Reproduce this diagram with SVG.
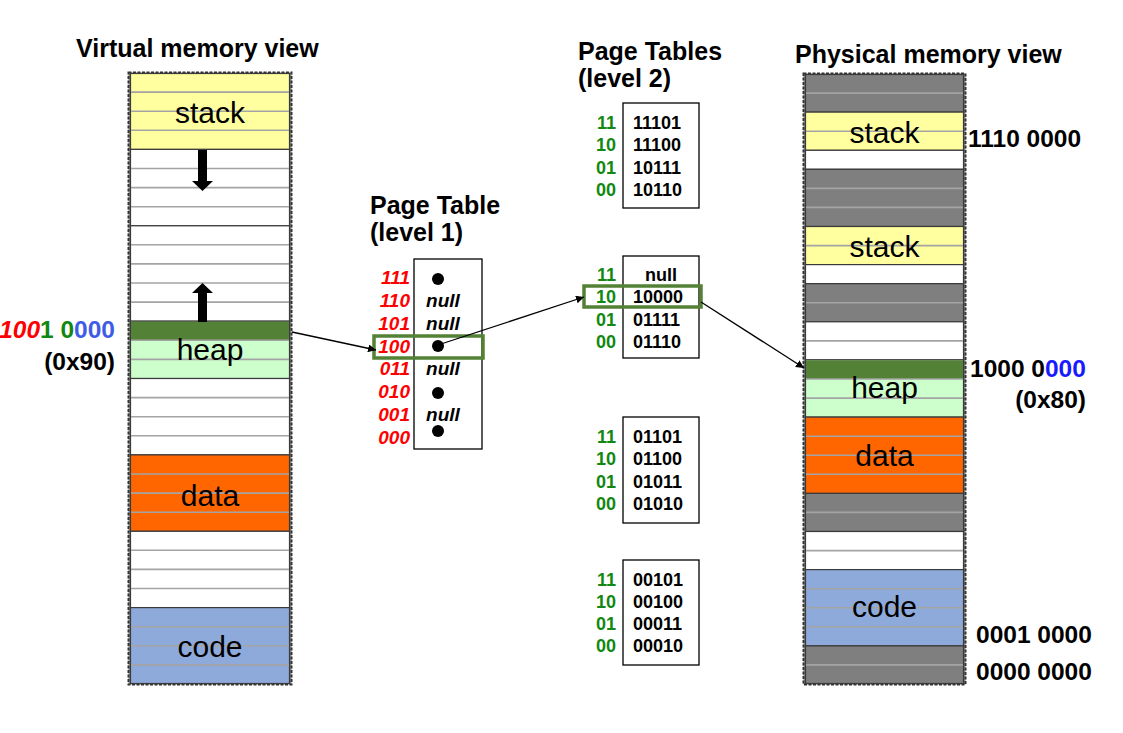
<svg xmlns="http://www.w3.org/2000/svg" width="1123" height="733" viewBox="0 0 1123 733">
<style>
  text { font-family: "Liberation Sans", Arial, sans-serif; }
  .title { font-size: 25px; font-weight: bold; fill: #000; }
  .seg { font-size: 30px; fill: #000; text-anchor: middle; }
  .addr { font-size: 24.5px; font-weight: bold; fill: #000; }
  .outer { fill: #8c8c8c; stroke: #333; stroke-width: 2; stroke-dasharray: 3 1.5; }
  .blk { stroke: #3a3a3a; stroke-width: 1.2; }
  .slot { stroke: #a4a4a4; stroke-width: 1.6; fill: none; }
  .white { fill: #ffffff; }
  .stack { fill: #ffffa0; }
  .heap { fill: #ccffcc; }
  .hot { fill: #538135; }
  .data { fill: #ff6600; }
  .code { fill: #8eaadb; }
  .gray { fill: #7f7f7f; }
  .tbl { fill: #fff; stroke: #000; stroke-width: 1.3; }
  .l1k { font-size: 19px; font-weight: bold; font-style: italic; fill: #ff0000; text-anchor: end; }
  .l1v { font-size: 19px; font-weight: bold; font-style: italic; fill: #000; text-anchor: middle; }
  .l2k { font-size: 18px; font-weight: bold; fill: #118811; text-anchor: end; }
  .l2v { font-size: 18px; font-weight: bold; fill: #000; }
  .sel { fill: none; stroke: #538135; stroke-width: 3.5; }
  .conn { stroke: #000; stroke-width: 1.3; fill: none; marker-end: url(#arr); }
</style>
<defs>
  <marker id="arr" viewBox="0 0 10 10" refX="10" refY="5" markerWidth="8" markerHeight="8" markerUnits="userSpaceOnUse" orient="auto">
    <path d="M0,0 L10,5 L0,10 Z" fill="#000"/>
  </marker>
</defs>
<rect width="1123" height="733" fill="#fff"/>

<!-- Virtual memory view -->
<g id="virtual-memory">
  <text class="title" x="76" y="57">Virtual memory view</text>
  <rect class="outer" x="128.5" y="72.5" width="163" height="612"/>
  <rect class="blk stack" x="130.5" y="73.5" width="159" height="75.9"/>
  <rect class="blk white" x="130.5" y="149.4" width="159" height="76.4"/>
  <rect class="blk white" x="130.5" y="225.8" width="159" height="95.4"/>
  <rect class="blk heap" x="130.5" y="321.2" width="159" height="57.3"/>
  <rect class="hot" x="131" y="321.7" width="158" height="18.6"/>
  <rect class="blk white" x="130.5" y="378.5" width="159" height="76.4"/>
  <rect class="blk data" x="130.5" y="454.9" width="159" height="76.4"/>
  <rect class="blk white" x="130.5" y="531.3" width="159" height="76.3"/>
  <rect class="blk code" x="130.5" y="607.6" width="159" height="75.9"/>
  <path class="slot" d="M131,92.1H289 M131,111.2H289 M131,130.3H289 M131,168.5H289 M131,187.6H289 M131,206.7H289 M131,244.8H289 M131,263.9H289 M131,283H289 M131,302.1H289 M131,340.3H289 M131,359.4H289 M131,397.6H289 M131,416.7H289 M131,435.8H289 M131,474H289 M131,493.1H289 M131,512.2H289 M131,550.3H289 M131,569.4H289 M131,588.5H289 M131,626.7H289 M131,645.8H289 M131,664.9H289"/>
  <text class="seg" x="210" y="123">stack</text>
  <text class="seg" x="210" y="360">heap</text>
  <text class="seg" x="210" y="506">data</text>
  <text class="seg" x="210" y="657">code</text>
  <path d="M198,150 H207 V181 H213 L202.5,191 L192,181 H198 Z" fill="#000"/>
  <path d="M198,322 V293 H192 L202.5,283 L213,293 H207 V322 Z" fill="#000"/>
</g>

<g id="virtual-address">
  <text class="addr" x="115" y="338" text-anchor="end"><tspan fill="#ff0000" font-style="italic">100</tspan><tspan fill="#118811">1 0</tspan><tspan fill="#3f5ce6">000</tspan></text>
  <text class="addr" x="115" y="370" text-anchor="end">(0x90)</text>
</g>

<!-- Page table level 1 -->
<g id="page-table-l1">
  <text class="title" x="370" y="214">Page Table</text>
  <text class="title" x="370" y="241">(level 1)</text>
  <rect class="tbl" x="414" y="259" width="68" height="190"/>
  <text class="l1k" x="410" y="284">111</text>
  <text class="l1k" x="410" y="307">110</text>
  <text class="l1k" x="410" y="330">101</text>
  <text class="l1k" x="410" y="353">100</text>
  <text class="l1k" x="410" y="375">011</text>
  <text class="l1k" x="410" y="398">010</text>
  <text class="l1k" x="410" y="421">001</text>
  <text class="l1k" x="410" y="444">000</text>
  <circle cx="438" cy="279" r="6" fill="#000"/>
  <text class="l1v" x="443" y="307">null</text>
  <text class="l1v" x="443" y="330">null</text>
  <circle cx="438" cy="346" r="6" fill="#000"/>
  <text class="l1v" x="443" y="375">null</text>
  <circle cx="438" cy="393" r="6" fill="#000"/>
  <text class="l1v" x="443" y="421">null</text>
  <circle cx="438" cy="431" r="6" fill="#000"/>
  <rect class="sel" x="374" y="336" width="109" height="22"/>
</g>

<!-- Page tables level 2 -->
<g id="page-tables-l2-title">
  <text class="title" x="578" y="60">Page Tables</text>
  <text class="title" x="578" y="87">(level 2)</text>
</g>
<g id="page-table-l2-111">
  <rect class="tbl" x="623" y="103" width="76" height="105"/>
  <text class="l2k" x="616" y="129">11</text><text class="l2v" x="633" y="129">11101</text>
  <text class="l2k" x="616" y="151">10</text><text class="l2v" x="633" y="151">11100</text>
  <text class="l2k" x="616" y="174">01</text><text class="l2v" x="633" y="174">10111</text>
  <text class="l2k" x="616" y="196">00</text><text class="l2v" x="633" y="196">10110</text>
</g>
<g id="page-table-l2-100">
  <rect class="tbl" x="623" y="256" width="76" height="102"/>
  <text class="l2k" x="616" y="281">11</text><text class="l2v" x="661" y="281" text-anchor="middle">null</text>
  <text class="l2k" x="616" y="303">10</text><text class="l2v" x="633" y="303">10000</text>
  <text class="l2k" x="616" y="326">01</text><text class="l2v" x="633" y="326">01111</text>
  <text class="l2k" x="616" y="348">00</text><text class="l2v" x="633" y="348">01110</text>
  <rect class="sel" x="584" y="286" width="117" height="21"/>
</g>
<g id="page-table-l2-010">
  <rect class="tbl" x="623" y="417" width="76" height="106"/>
  <text class="l2k" x="616" y="443">11</text><text class="l2v" x="633" y="443">01101</text>
  <text class="l2k" x="616" y="465">10</text><text class="l2v" x="633" y="465">01100</text>
  <text class="l2k" x="616" y="488">01</text><text class="l2v" x="633" y="488">01011</text>
  <text class="l2k" x="616" y="510">00</text><text class="l2v" x="633" y="510">01010</text>
</g>
<g id="page-table-l2-000">
  <rect class="tbl" x="623" y="560" width="76" height="105"/>
  <text class="l2k" x="616" y="586">11</text><text class="l2v" x="633" y="586">00101</text>
  <text class="l2k" x="616" y="608">10</text><text class="l2v" x="633" y="608">00100</text>
  <text class="l2k" x="616" y="630">01</text><text class="l2v" x="633" y="630">00011</text>
  <text class="l2k" x="616" y="652">00</text><text class="l2v" x="633" y="652">00010</text>
</g>

<!-- Physical memory view -->
<g id="physical-memory">
  <text class="title" x="795" y="63">Physical memory view</text>
  <rect class="outer" x="803.5" y="73.5" width="162" height="611"/>
  <rect class="blk gray" x="805.5" y="74.5" width="158" height="37.6"/>
  <rect class="blk stack" x="805.5" y="112.1" width="158" height="38.2"/>
  <rect class="blk white" x="805.5" y="150.3" width="158" height="19"/>
  <rect class="blk gray" x="805.5" y="169.3" width="158" height="57.2"/>
  <rect class="blk stack" x="805.5" y="226.5" width="158" height="38.1"/>
  <rect class="blk white" x="805.5" y="264.6" width="158" height="19.1"/>
  <rect class="blk gray" x="805.5" y="283.7" width="158" height="38.1"/>
  <rect class="blk white" x="805.5" y="321.8" width="158" height="38.1"/>
  <rect class="blk heap" x="805.5" y="359.9" width="158" height="57.2"/>
  <rect class="hot" x="806" y="360.4" width="157" height="18.6"/>
  <rect class="blk data" x="805.5" y="417.1" width="158" height="76.3"/>
  <rect class="blk gray" x="805.5" y="493.4" width="158" height="38.1"/>
  <rect class="blk white" x="805.5" y="531.5" width="158" height="38.1"/>
  <rect class="blk code" x="805.5" y="569.6" width="158" height="76.3"/>
  <rect class="blk gray" x="805.5" y="645.9" width="158" height="37.6"/>
  <path class="slot" d="M806,93.1H963 M806,131.2H963 M806,188.4H963 M806,207.4H963 M806,245.6H963 M806,302.8H963 M806,340.9H963 M806,379H963 M806,398.1H963 M806,436.2H963 M806,455.3H963 M806,474.3H963 M806,512.4H963 M806,550.6H963 M806,588.7H963 M806,607.8H963 M806,626.8H963 M806,664.9H963"/>
  <text class="seg" x="884.5" y="143">stack</text>
  <text class="seg" x="884.5" y="257">stack</text>
  <text class="seg" x="884.5" y="398">heap</text>
  <text class="seg" x="884.5" y="466">data</text>
  <text class="seg" x="884.5" y="617">code</text>
</g>

<g id="physical-addresses">
  <text class="addr" x="968" y="147">1110 0000</text>
  <text class="addr" x="970" y="377">1000 0<tspan fill="#1a1aff">000</tspan></text>
  <text class="addr" x="1086" y="408" text-anchor="end">(0x80)</text>
  <text class="addr" x="976" y="643">0001 0000</text>
  <text class="addr" x="976" y="680">0000 0000</text>
</g>

<!-- Connectors -->
<g id="connectors">
  <line class="conn" x1="292" y1="332" x2="376" y2="350"/>
  <line class="conn" x1="441" y1="344" x2="584" y2="297"/>
  <line class="conn" x1="701" y1="302" x2="804" y2="368"/>
</g>
</svg>
